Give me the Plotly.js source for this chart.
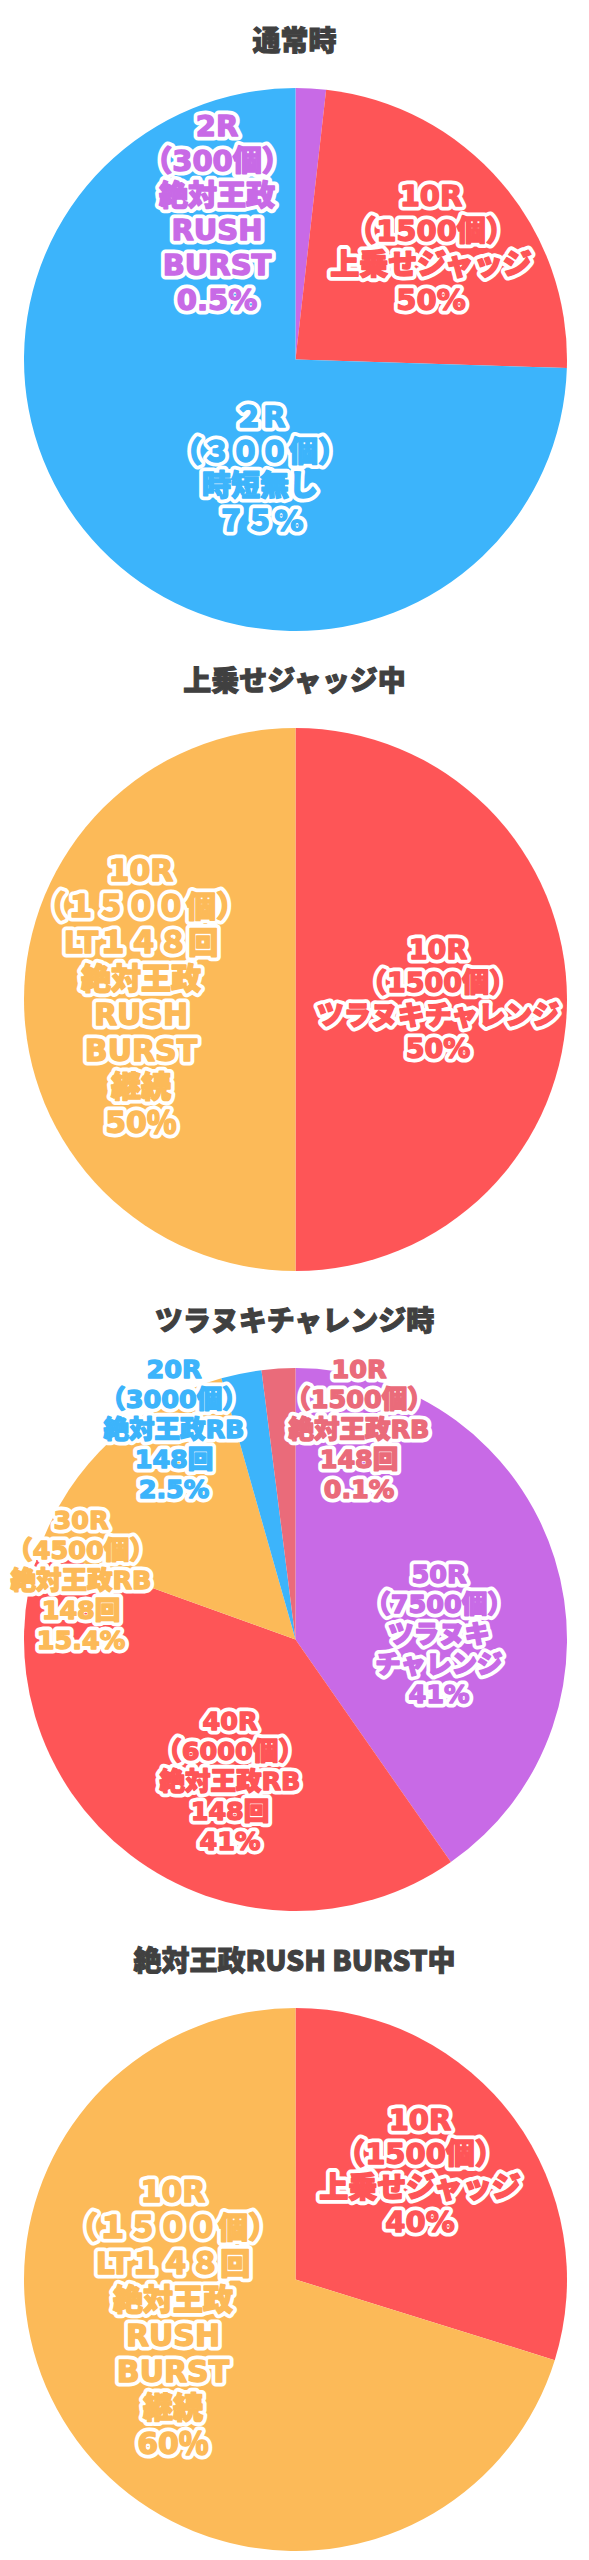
<!DOCTYPE html>
<html>
<head>
<meta charset="utf-8">
<script src="https://cdn.plot.ly/plotly-3.0.1.min.js"></script>
<style>
  html, body { margin: 0; padding: 0; background: #ffffff; }
  .chart { width: 589px; height: 640px; }
</style>
</head>
<body>
<div id="c1" class="chart"></div>
<div id="c2" class="chart"></div>
<div id="c3" class="chart"></div>
<div id="c4" class="chart"></div>
<script>
// ---------------- DATA ----------------
const titles = ["通常時", "上乗せジャッジ中", "ツラヌキチャレンジ時", "絶対王政RUSH BURST中"];

// Chart 1: 通常時 (clockwise from 12 o'clock)
const labels1 = ["2R(300個)絶対王政RUSH BURST", "10R(1500個)上乗せジャッジ", "2R(300個)時短無し"];
const values1 = [1.8, 23.7, 74.5];
const text1 = [
  "2R\n（300個）\n絶対王政\nRUSH\nBURST\n0.5%",
  "10R\n（1500個）\n上乗せジャッジ\n50%",
  "２R\n（３００個）\n時短無し\n７５%"
];

// Chart 2: 上乗せジャッジ中
const labels2 = ["10R(1500個)ツラヌキチャレンジ", "10R(1500個)LT148回絶対王政RUSH BURST継続"];
const values2 = [50, 50];
const text2 = [
  "10R\n（1500個）\nツラヌキチャレンジ\n50%",
  "10R\n（１５００個）\nLT１４８回\n絶対王政\nRUSH\nBURST\n継続\n50％"
];

// Chart 3: ツラヌキチャレンジ時
const labels3 = ["50R(7500個)ツラヌキチャレンジ", "40R(6000個)絶対王政RB148回", "30R(4500個)絶対王政RB148回", "20R(3000個)絶対王政RB148回", "10R(1500個)絶対王政RB148回"];
const values3 = [40.3, 40.2, 15.1, 2.4, 2.0];
const text3 = [
  "50R\n（7500個）\nツラヌキ\nチャレンジ\n41%",
  "40R\n（6000個）\n絶対王政RB\n148回\n41%",
  "30R\n（4500個）\n絶対王政RB\n148回\n15.4%",
  "20R\n（3000個）\n絶対王政RB\n148回\n2.5%",
  "10R\n（1500個）\n絶対王政RB\n148回\n0.1%"
];

// Chart 4: 絶対王政RUSH BURST中
const labels4 = ["10R(1500個)上乗せジャッジ", "10R(1500個)LT148回絶対王政RUSH BURST継続"];
const values4 = [29.8, 70.2];
const text4 = [
  "10R\n（1500個）\n上乗せジャッジ\n40%",
  "10R\n（１５００個）\nLT１４８回\n絶対王政\nRUSH\nBURST\n継続\n60％"
];

// ---------------- STYLE / LAYOUT ----------------
const PURPLE = "#c86ae6", RED = "#fe5557", BLUE = "#3cb4fb", ORANGE = "#fcba58", PINK = "#ea6b7a";
const colors1 = [PURPLE, RED, BLUE];
const colors2 = [RED, ORANGE];
const colors3 = [PURPLE, RED, ORANGE, BLUE, PINK];
const colors4 = [RED, ORANGE];

// label centres (px inside each 589x640 panel), font sizes, line spacing (px)
const pos1 = [[217, 213], [431, 248], [260, 469]];
const pos2 = [[438, 359], [141, 356]];
const pos3 = [[439, 354], [230, 501], [81, 300], [174, 149], [359, 149]];
const pos4 = [[420, 251], [173, 397]];
const fs1 = [29, 29, 29];
const fs2 = [27, 30];
const fs3 = [25.5, 25.5, 25.5, 25.5, 25.5];
const fs4 = [29, 30];
const ls1 = [34.7, 34.7, 34.7];
const ls2 = [33, 36];
const ls3 = [30, 30, 30, 30, 30];
const ls4 = [34, 36];

const W = 589, H = 640;
const LABEL_FONT = "DejaVu Sans, 'Noto Sans CJK JP', sans-serif";
const TITLE_FONT = "'Noto Sans CJK JP', 'DejaVu Sans', sans-serif";

function draw(id, title, labels, values, colors, texts, pos, fs, ls) {
  const trace = {
    type: "pie",
    labels: labels,
    values: values,
    sort: false,
    direction: "clockwise",
    rotation: 0,
    textinfo: "none",
    hoverinfo: "label+percent",
    marker: { colors: colors, line: { width: 0 } },
    domain: { x: [24 / W, 567 / W], y: [1 - 632 / H, 1 - 87 / H] },
    showlegend: false
  };
  const annotations = texts.map((t, i) => ({
    xref: "paper", yref: "paper",
    x: pos[i][0] / W, y: 1 - pos[i][1] / H,
    xanchor: "center", yanchor: "middle",
    align: "center",
    showarrow: false,
    text: t.split("\n").join("<br>"),
    font: { family: LABEL_FONT, size: fs[i], color: colors[i], weight: 900 }
  }));
  const layout = {
    width: W, height: H,
    margin: { l: 0, r: 0, t: 0, b: 0 },
    paper_bgcolor: "#ffffff",
    title: {
      text: title,
      font: { family: TITLE_FONT, size: 28, color: "#404040", weight: 900 },
      x: 0.5, xanchor: "center",
      y: 1 - 41 / H, yref: "container", yanchor: "middle"
    },
    annotations: annotations,
    showlegend: false
  };
  return Plotly.newPlot(id, [trace], layout, { staticPlot: true, displayModeBar: false }).then(gd => {
    const divRect = gd.getBoundingClientRect();
    gd.querySelectorAll(".annotation-text").forEach((el, i) => {
      // tighter line spacing like the original artwork
      el.querySelectorAll("tspan.line").forEach((t, k) => t.setAttribute("dy", (k * ls[i]) + "px"));
      // re-centre the text block on its label position
      const r = el.getBoundingClientRect();
      const cx = r.left + r.width / 2 - divRect.left;
      const cy = r.top + r.height / 2 - divRect.top;
      const prev = el.getAttribute("transform") || "";
      el.setAttribute("transform", "translate(" + (pos[i][0] - cx) + "," + (pos[i][1] - cy) + ") " + prev);
      // heavy glyphs: thin same-colour stroke on top, thick white outline copy underneath
      const outline = el.cloneNode(true);
      outline.removeAttribute("class");
      outline.style.setProperty("stroke", "#ffffff");
      outline.style.setProperty("stroke-width", "9px");
      outline.style.setProperty("stroke-linejoin", "round");
      outline.style.setProperty("fill", "#ffffff");
      el.parentNode.insertBefore(outline, el);
      el.style.setProperty("stroke", colors[i]);
      el.style.setProperty("stroke-width", "1.4px");
      el.style.setProperty("stroke-linejoin", "round");
    });
    const tt = gd.querySelector(".gtitle");
    if (tt) {
      tt.style.setProperty("stroke", "#404040");
      tt.style.setProperty("stroke-width", "1px");
    }
  });
}

draw("c1", titles[0], labels1, values1, colors1, text1, pos1, fs1, ls1);
draw("c2", titles[1], labels2, values2, colors2, text2, pos2, fs2, ls2);
draw("c3", titles[2], labels3, values3, colors3, text3, pos3, fs3, ls3);
draw("c4", titles[3], labels4, values4, colors4, text4, pos4, fs4, ls4);
</script>
</body>
</html>
